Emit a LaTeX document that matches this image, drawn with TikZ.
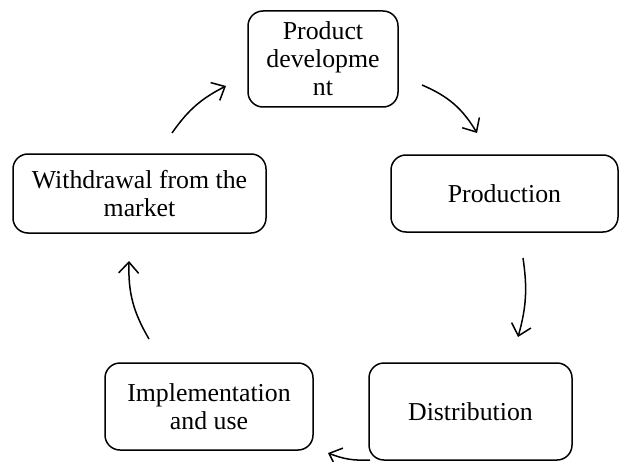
\documentclass[tikz,border=0pt]{standalone}
\usepackage{fontspec}
\setmainfont{Liberation Serif}
\usetikzlibrary{arrows.meta}
\usetikzlibrary{positioning}
\tikzset{stage/.style={draw,rounded corners=7.5pt,align=center,inner sep=0pt,line width=0.75pt,font=\fontsize{12.9}{14}\selectfont},
cycarrow/.style={-{Straight Barb[length=5.5pt,width=10pt]},line width=0.75pt,bend left=#1}}

\begin{document}
\begin{tikzpicture}[x=0.5pt,y=0.5pt]
\useasboundingbox (0,0) rectangle (619,461);
\node (dev) at (323,402) [stage,minimum width=75pt,minimum height=48pt] {Product\\developme\\nt};
\node (prod) at (504.5,267.5) [stage,minimum width=113.5pt,minimum height=38.5pt] {Production};
\node (dist) at (470.5,49.5) [stage,minimum width=101.5pt,minimum height=48.5pt] {Distribution};
\node (impl) at (209,54.5) [stage,minimum width=104pt,minimum height=43.5pt] {Implementation\\and use};
\node (wdr) at (139.5,267.5) [stage,minimum width=126.5pt,minimum height=39.5pt] {Withdrawal from the\\market};
% arrow ends
\coordinate (s1) at (422,376); \coordinate (e1) at (477,328);
\coordinate (s2) at (523,203); \coordinate (e2) at (518,124);
\coordinate (s3) at (370,1);   \coordinate (e3) at (328,8);
\coordinate (s4) at (149,122); \coordinate (e4) at (129,200);
\coordinate (s5) at (172,328); \coordinate (e5) at (226,375);
\foreach \x/\b in {1/18,2/12,3/12,4/16,5/14} {
\draw[cycarrow=\b] (s\x) to (e\x);
}
\end{tikzpicture}
\end{document}
